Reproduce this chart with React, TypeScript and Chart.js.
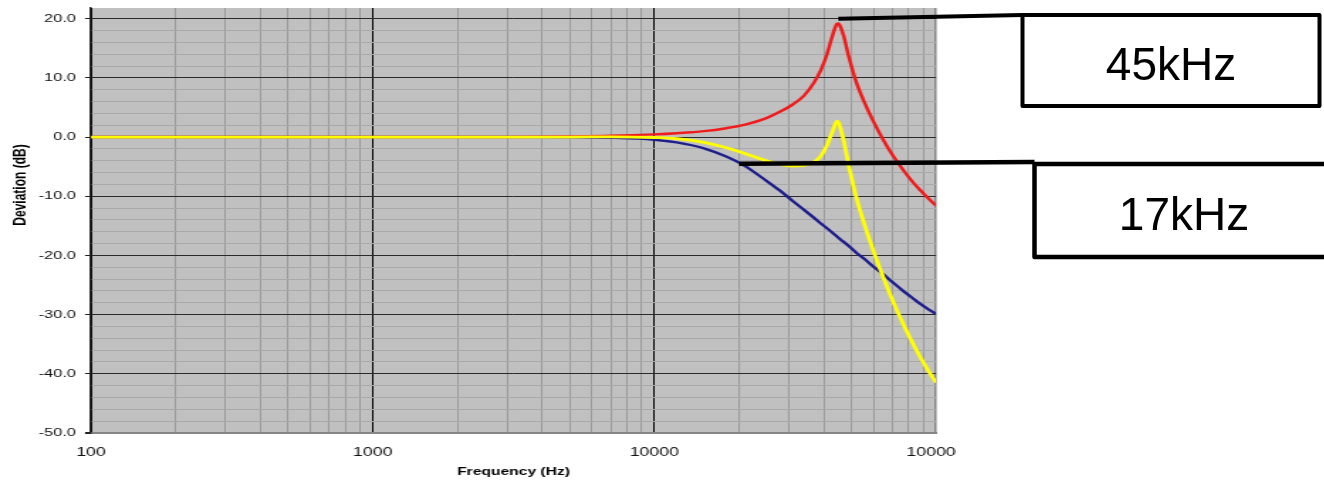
import { useEffect, useRef } from "react";
import { Chart, registerables } from "chart.js";

Chart.register(...registerables);

// ---------- data ----------
const frequencies = [
  100, 200, 500, 1000, 2000, 3000, 5000, 7000, 10000, 12000, 15000, 18000, 21000, 25000,
  28000, 31000, 34000, 37000, 39000, 41000, 43000, 44000, 44500, 45000, 45500, 46000, 47000,
  49000, 52000, 56000, 60000, 65000, 70000, 76000, 82000, 88000, 94000, 100000,
];

// red: resonant response (peak ~45 kHz)
const resonantResponse = [
  0, 0, 0, 0, 0, 0.02, 0.1, 0.2, 0.45, 0.65, 1.0, 1.5, 2.1, 3.2,
  4.3, 5.5, 7.0, 9.3, 11.3, 14.0, 17.3, 18.7, 19.1, 19.2, 18.9, 18.4, 17.1,
  13.6, 9.4, 5.6, 2.6, -0.5, -3.0, -5.4, -7.4, -9.0, -10.4, -11.6,
];

// blue: 17 kHz low-pass
const filteredResponse = [
  0, 0, 0, 0, 0, 0, -0.03, -0.12, -0.45, -0.9, -1.9, -3.3, -4.9, -7.4,
  -9.1, -10.8, -12.3, -13.7, -14.6, -15.4, -16.2, -16.6, -16.8, -17.0, -17.2, -17.4, -17.7,
  -18.4, -19.5, -20.7, -21.9, -23.2, -24.5, -25.9, -27.1, -28.2, -29.1, -29.9,
];

// yellow: combined response
const combinedResponse = [
  0, 0, 0, 0, 0, 0, 0, 0.03, -0.08, -0.25, -0.9, -1.8, -2.8, -4.0,
  -4.6, -4.9, -4.8, -4.2, -3.2, -1.4, 1.1, 2.3, 2.7, 2.5, 1.9, 1.1, -0.6,
  -4.8, -10.0, -15.1, -19.3, -23.7, -27.5, -31.3, -34.5, -37.2, -39.5, -41.5,
];

const xGridTicks = [
  100, 200, 300, 400, 500, 600, 700, 800, 900,
  1000, 2000, 3000, 4000, 5000, 6000, 7000, 8000, 9000,
  10000, 20000, 30000, 40000, 50000, 60000, 70000, 80000, 90000,
  100000,
];
const xLabelTicks = [100, 1000, 10000, 100000];
const yGridTicks = [
  -50, -48, -46, -44, -42, -40, -38, -36, -34, -32, -30, -28, -26, -24, -22, -20, -18, -16,
  -14, -12, -10, -8, -6, -4, -2, 0, 2, 4, 6, 8, 10, 12, 14, 16, 18, 20,
];

const annotationLabels = ["45kHz", "17kHz"];
const annotationFreqs = [45000, 20000];
const annotationLevels = [20, -4.5];

// ---------- layout ----------
const STRETCH = 1.42; // horizontal stretch of the original picture
const CANVAS_W = 700;
const PAGE_W = 1324;
const H = 482;
const FONT = "'Liberation Sans', Arial, Helvetica, sans-serif";

export default function App() {
  const canvasRef = useRef<HTMLCanvasElement>(null);
  const overlayRef = useRef<HTMLCanvasElement>(null);

  useEffect(() => {
    const canvas = canvasRef.current!;
    const overlay = overlayRef.current!;

    const decorations = {
      id: "decorations",
      beforeDraw(chart: any) {
        const { ctx, chartArea: a } = chart;
        ctx.save();
        ctx.fillStyle = "#c0c0c0";
        ctx.fillRect(a.left, a.top, a.right - a.left, a.bottom - a.top);
        ctx.restore();
      },
      afterDraw(chart: any) {
        const { ctx } = chart;
        ctx.save();
        ctx.translate(15, 185);
        ctx.rotate(-Math.PI / 2);
        ctx.font = `bold 12px ${FONT}`;
        ctx.fillStyle = "#000";
        ctx.textAlign = "center";
        ctx.textBaseline = "middle";
        ctx.fillText("Deviation (dB)", 0, 0);
        ctx.restore();

        const o = overlay.getContext("2d")!;
        o.clearRect(0, 0, PAGE_W, H);
        o.strokeStyle = "#000";
        o.lineJoin = "round";
        const xs = chart.scales.x;
        const ys = chart.scales.y;
        const boxes = [
          { x: 1022.5, y: 15, w: 297, h: 91, tx: 1171, ty: 80, lw: 4, jx: 1022.5, jy: 15 },
          { x: 1034.5, y: 164, w: 330, h: 93, tx: 1184, ty: 230, lw: 4.5, jx: 1034.5, jy: 162 },
        ];
        boxes.forEach((b, i) => {
          const sx = xs.getPixelForValue(annotationFreqs[i]) * STRETCH;
          const sy = ys.getPixelForValue(annotationLevels[i]);
          o.lineWidth = b.lw;
          o.beginPath();
          o.moveTo(sx, sy);
          o.lineTo(b.jx, b.jy);
          o.stroke();
          o.fillStyle = "#fff";
          o.fillRect(b.x, b.y, b.w, b.h);
          o.strokeRect(b.x, b.y, b.w, b.h);
          o.fillStyle = "#000";
          o.font = `46px ${FONT}`;
          o.textAlign = "center";
          o.textBaseline = "alphabetic";
          o.fillText(annotationLabels[i], b.tx, b.ty);
        });
      },
    };

    const toPoints = (vals: number[]) => frequencies.map((f, i) => ({ x: f, y: vals[i] }));

    const chart = new Chart(canvas, {
      type: "line",
      data: {
        datasets: [
          {
            label: "Combined",
            data: toPoints(combinedResponse),
            borderColor: "#ffff00",
            borderWidth: 2.8,
            pointRadius: 0,
            cubicInterpolationMode: "monotone",
          },
          {
            label: "Resonant",
            data: toPoints(resonantResponse),
            borderColor: "#f01c1c",
            borderWidth: 2.5,
            pointRadius: 0,
            cubicInterpolationMode: "monotone",
          },
          {
            label: "Filtered",
            data: toPoints(filteredResponse),
            borderColor: "#1e1e8c",
            borderWidth: 2.4,
            pointRadius: 0,
            cubicInterpolationMode: "monotone",
          },
        ],
      },
      options: {
        animation: false,
        responsive: false,
        events: [],
        layout: { padding: { top: 8, right: CANVAS_W - 936 / STRETCH, bottom: 0, left: 0 } },
        plugins: { legend: { display: false }, tooltip: { enabled: false } },
        scales: {
          x: {
            type: "logarithmic",
            min: 100,
            max: 100000,
            afterBuildTicks: (s: any) => {
              s.ticks = xGridTicks.map((v) => ({ value: v }));
            },
            afterFit: (s: any) => {
              s.height = 49;
            },
            ticks: {
              autoSkip: false,
              maxRotation: 0,
              minRotation: 0,
              padding: 12.3,
              color: "#111",
              font: { family: FONT, size: 12.5 },
              callback: (v: any) => (xLabelTicks.includes(Number(v)) ? String(v) : ""),
            },
            grid: {
              drawTicks: false,
              color: (c: any) => {
                const v = c.tick ? c.tick.value : 0;
                if (v === 100000) return "#858585";
                if (xLabelTicks.includes(v)) return "#000";
                return "#9a9a9a";
              },
              lineWidth: (c: any) => (c.tick && c.tick.value === 100000 ? 1.5 : 1),
            },
            border: { color: "#858585", width: 2 },
            title: {
              display: true,
              text: "Frequency (Hz)",
              color: "#000",
              font: { family: FONT, size: 11, weight: "bold" },
              padding: { top: 0, bottom: 3.4 },
            },
          },
          y: {
            type: "linear",
            min: -50,
            max: 21.8,
            afterBuildTicks: (s: any) => {
              s.ticks = yGridTicks.map((v) => ({ value: v }));
            },
            afterFit: (s: any) => {
              s.width = 91 / STRETCH;
              s.paddingTop = 0;
              s.paddingBottom = 0;
            },
            ticks: {
              autoSkip: false,
              padding: 6.4,
              color: "#111",
              font: { family: FONT, size: 11.5 },
              callback: (v: any) => (Number(v) % 10 === 0 ? Number(v).toFixed(1) : ""),
            },
            grid: {
              tickLength: 4.2,
              color: (c: any) => {
                const v = c.tick ? c.tick.value : 0;
                if (v === -50) return "#858585";
                if (v % 10 === 0) return "#2a2a2a";
                return "#a9a9a9";
              },
              lineWidth: (c: any) => (c.tick && c.tick.value === -50 ? 2 : 1),
              tickColor: (c: any) => {
                const v = c.tick ? c.tick.value : 1;
                return v % 10 === 0 ? "#222" : "rgba(0,0,0,0)";
              },
            },
            border: { color: "#222", width: 1.4 },
          },
        },
      },
      plugins: [decorations],
    } as any);

    return () => chart.destroy();
  }, []);

  return (
    <div
      style={{
        position: "fixed",
        left: 0,
        top: 0,
        width: PAGE_W,
        height: H,
        background: "#fff",
        overflow: "hidden",
      }}
    >
      <div style={{ position: "absolute", left: 0, top: 0, width: 956, height: H, overflow: "hidden" }}>
        <div
          style={{
            position: "absolute",
            left: 0,
            top: 0,
            width: CANVAS_W,
            height: H,
            transform: `scaleX(${STRETCH})`,
            transformOrigin: "0 0",
          }}
        >
          <canvas ref={canvasRef} width={CANVAS_W} height={H} style={{ display: "block" }} />
        </div>
      </div>
      <canvas
        ref={overlayRef}
        width={PAGE_W}
        height={H}
        style={{ position: "absolute", left: 0, top: 0, pointerEvents: "none" }}
      />
    </div>
  );
}
